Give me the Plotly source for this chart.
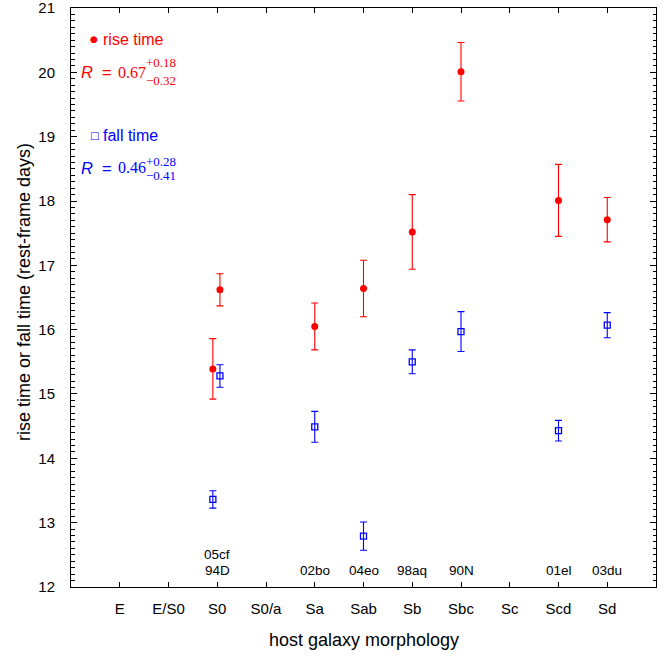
import plotly.graph_objects as go

# ---- data ----
categories = ["E", "E/S0", "S0", "S0/a", "Sa", "Sab", "Sb", "Sbc", "Sc", "Scd", "Sd"]
y_ticks = [12, 13, 14, 15, 16, 17, 18, 19, 20, 21]
sn_names = ["94D", "05cf", "02bo", "04eo", "98aq", "90N", "01el", "03du"]
sn_host = ["S0", "S0", "Sa", "Sab", "Sb", "Sbc", "Scd", "Sd"]
rise_time = [15.39, 16.62, 16.05, 16.64, 17.52, 20.01, 18.01, 17.71]
rise_err = [0.47, 0.25, 0.365, 0.44, 0.58, 0.455, 0.56, 0.345]
fall_time = [13.36, 15.28, 14.49, 12.79, 15.50, 15.97, 14.43, 16.07]
fall_err = [0.135, 0.175, 0.24, 0.22, 0.185, 0.31, 0.16, 0.195]

# small horizontal offsets so the two S0 objects do not overlap
jitter = {"94D": -0.09, "05cf": 0.055}
xpos = [categories.index(h) + jitter.get(n, 0.0) for n, h in zip(sn_names, sn_host)]

W, H = 664, 656
ML, MR, MT, MB = 71, 8, 8, 69
PW, PH = W - ML - MR, H - MT - MB

def px(x):
    return (x - ML) / PW

def py(y):
    return 1 - (y - MT) / PH

SANS = "Liberation Sans, Arial, sans-serif"
SERIF = "Liberation Serif, Times New Roman, serif"

fig = go.Figure()
fig.add_trace(go.Scatter(
    x=xpos, y=rise_time, mode="markers", name="rise time",
    marker=dict(symbol="circle", size=7, color="#ff0000"),
    error_y=dict(type="data", array=rise_err, color="#ff0000", thickness=1.1, width=3.5),
    showlegend=False,
))
fig.add_trace(go.Scatter(
    x=xpos, y=fall_time, mode="markers", name="fall time",
    marker=dict(symbol="square-open", size=6, color="#0000ff", line=dict(width=1.3, color="#0000ff")),
    error_y=dict(type="data", array=fall_err, color="#0000ff", thickness=1.1, width=3.5),
    showlegend=False,
))

ann = []
# SN labels above the x axis
seen = {}
for n, h in zip(sn_names, sn_host):
    k = seen.get(h, 0)
    seen[h] = k + 1
    ann.append(dict(x=categories.index(h), xref="x", y=py(570 - 16 * k), yref="paper",
                    text=n, showarrow=False, xanchor="center", yanchor="middle",
                    font=dict(family=SANS, size=13.5, color="black")))

def key(ypix, glyph, gsize, label, color, r_y, val, up, dn, sup_dy, sub_dy):
    out = []
    out.append(dict(x=px(94), y=py(ypix), xref="paper", yref="paper", text=glyph,
                    showarrow=False, xanchor="center", yanchor="middle",
                    font=dict(family="DejaVu Sans", size=gsize, color=color)))
    out.append(dict(x=px(101), y=py(ypix), xref="paper", yref="paper", text=label,
                    showarrow=False, xanchor="left", yanchor="middle",
                    font=dict(family=SANS, size=16, color=color)))
    out.append(dict(x=px(79), y=py(r_y), xref="paper", yref="paper",
                    text="<i>R</i>\u00a0\u00a0=", showarrow=False, xanchor="left", yanchor="middle",
                    font=dict(family=SANS, size=16.5, color=color)))
    out.append(dict(x=px(116), y=py(r_y), xref="paper", yref="paper", text=val,
                    showarrow=False, xanchor="left", yanchor="middle",
                    font=dict(family=SERIF, size=16, color=color)))
    out.append(dict(x=px(144), y=py(r_y + sup_dy), xref="paper", yref="paper", text=up,
                    showarrow=False, xanchor="left", yanchor="middle",
                    font=dict(family=SERIF, size=13, color=color)))
    out.append(dict(x=px(144), y=py(r_y + sub_dy), xref="paper", yref="paper", text=dn,
                    showarrow=False, xanchor="left", yanchor="middle",
                    font=dict(family=SERIF, size=13, color=color)))
    return out

ann += key(39, "\u25cf", 9, "rise time", "#ff0000", 72.5, "0.67", "+0.18", "\u22120.32", -9.5, 7.5)
ann += key(135.5, "\u25a1", 10, "fall time", "#0000ff", 168, "0.46", "+0.28", "\u22120.41", -6.5, 7)

# axis titles
ann.append(dict(x=px(364), y=py(640), xref="paper", yref="paper", text="host galaxy morphology",
                showarrow=False, xanchor="center", yanchor="middle",
                font=dict(family=SANS, size=18, color="black")))
ann.append(dict(x=px(24), y=py(292), xref="paper", yref="paper",
                text="rise time or fall time (rest-frame days)", textangle=-90,
                showarrow=False, xanchor="center", yanchor="middle",
                font=dict(family=SANS, size=18, color="black")))

fig.update_layout(
    width=W, height=H,
    margin=dict(l=ML, r=MR, t=MT, b=MB, autoexpand=False),
    paper_bgcolor="white", plot_bgcolor="white",
    font=dict(family=SANS, size=15, color="black"),
    annotations=ann,
    showlegend=False,
)
fig.update_xaxes(
    range=[-1, 11], tickmode="array", tickvals=list(range(len(categories))), ticktext=categories,
    ticks="inside", ticklen=5, tickcolor="black", tickwidth=1,
    showline=True, linecolor="black", linewidth=1, mirror="ticks",
    showgrid=False, zeroline=False, ticklabelstandoff=8, automargin=False,
    ticklabeloverflow="allow",
    tickfont=dict(family=SANS, size=15),
)
fig.update_yaxes(
    range=[11.999, 21.001], tickmode="array", tickvals=y_ticks, ticktext=[str(v) for v in y_ticks],
    ticks="inside", ticklen=6, tickcolor="black", tickwidth=1,
    minor=dict(dtick=0.1, tick0=12, ticks="inside", ticklen=3.5, tickcolor="black", tickwidth=1, showgrid=False),
    showline=True, linecolor="black", linewidth=1, mirror="ticks",
    showgrid=False, zeroline=False, ticklabelstandoff=12, automargin=False,
    ticklabeloverflow="allow",
    tickfont=dict(family=SANS, size=15),
)

fig.write_html(
    "out.html",
    config={"displayModeBar": False},
    post_script="document.body.style.margin='0';document.body.style.overflow='hidden';",
)
